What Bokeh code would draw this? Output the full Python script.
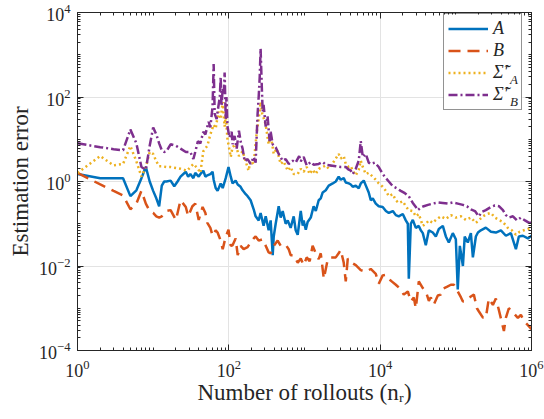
from bokeh.plotting import figure
from bokeh.models import (LogAxis, FixedTicker, LogTickFormatter, Legend, LegendItem,
                          Label, CustomJSTickFormatter, Range1d, BoxAnnotation)
from bokeh.embed import file_html
from bokeh.resources import INLINE

# ---------------- data ----------------
n_A = [1, 2, 3, 4, 5, 6, 7, 8, 9, 10, 11, 12, 13, 14, 15, 17,
       19, 21, 23, 27, 29, 31, 34, 36, 40, 42, 46, 49, 52, 57, 61, 63, 67, 71, 78, 83, 91, 99,
       106, 112, 123, 131, 143, 152, 167, 177, 194, 213, 226, 248, 263, 288, 307, 336, 357, 380,
       392, 416, 456, 484, 515, 564, 600, 656, 720, 765, 813, 892, 947, 975, 1040, 1100, 1210,
       1320, 1410, 1540, 1640, 1740, 1910, 2090, 2360, 2590, 2830, 3010, 3300, 3510, 3850, 4090,
       4340, 4760, 5210, 5540, 6070, 6450, 7060, 7510, 7980, 8750, 9580,
       10800, 11900, 13000, 14700, 16100, 17600, 19900, 21800, 23200, 23900, 24600, 25400, 27000,
       29600, 32400, 34400, 36600, 40100, 44000, 49600, 54400, 59600, 67300, 73800, 80800, 91200,
       100000, 106000, 113000, 124000, 131000, 144000, 158000, 168000, 184000, 196000, 214000,
       249000, 291000, 338000, 394000, 459000, 534000, 622000, 681000, 769000, 896000, 1000000]
err_A = [1.5, 1.2, 1.2, 1.2, 0.45, 0.62, 1.2, 2.2, 1.0, 0.6, 0.4, 0.26, 0.8, 1.0, 1.0, 1.05,
         0.77, 1.0, 1.3, 1.7, 1.3, 1.5, 1.2, 1.6, 1.3, 1.5, 1.8, 1.3, 1.4, 1.5, 1.7, 1.1, 0.7, 0.6, 0.9, 0.7, 1.2, 2.2,
         1.3, 0.9, 1.05, 0.85, 0.75, 0.62, 0.5, 0.45, 0.36, 0.22, 0.15, 0.12, 0.18, 0.09, 0.15, 0.07, 0.12, 0.018,
         0.05, 0.1, 0.26, 0.14, 0.2, 0.1, 0.12, 0.08, 0.15, 0.07, 0.055, 0.2, 0.09, 0.12, 0.072, 0.11, 0.14,
         0.26, 0.2, 0.36, 0.4, 0.55, 0.62, 0.8, 0.9, 1.0, 1.3, 1.1, 1.2, 0.95, 0.9, 0.85,
         0.75, 0.8, 0.69, 0.9, 1.05, 0.81, 0.55, 0.36, 0.4, 0.3, 0.26,
         0.25, 0.2, 0.18, 0.2, 0.16, 0.15, 0.17, 0.12, 0.1, 0.005, 0.02, 0.1, 0.123,
         0.08, 0.089, 0.07, 0.06, 0.031, 0.07, 0.062, 0.05, 0.075, 0.089, 0.05, 0.036, 0.06,
         0.043, 0.0028, 0.03, 0.01, 0.05, 0.036, 0.06, 0.016, 0.05, 0.062, 0.07,
         0.081, 0.065, 0.062, 0.07, 0.052, 0.06, 0.025, 0.05, 0.052, 0.045, 0.052]

n_B = [1, 2, 3, 4, 5, 6, 7, 8, 9, 10, 11, 12, 13, 14, 15, 17,
       20, 23, 27, 29, 33, 36, 40, 45, 49, 52, 57, 61, 67, 71, 78, 83, 91, 99,
       106, 112, 123, 131, 143, 157, 177, 194, 213, 226, 248, 280, 307, 336, 357, 392, 442, 484,
       564, 618, 656, 720, 813, 892, 975, 1070, 1170, 1280, 1410, 1540, 1640, 1800, 2030, 2220,
       2590, 2830, 3010, 3300, 3510, 3730, 4090, 4760, 5540, 6450, 7510, 8750, 9580,
       10800, 11900, 13800, 16100, 18700, 20500, 23200, 25400, 27800, 29600, 32400, 36600, 40100,
       44000, 46700, 51200, 57800, 63300, 67300, 76000, 85900, 94200, 106000, 117000, 124000,
       136000, 149000, 158000, 173000, 190000, 201000, 228000, 249000, 273000, 309000, 338000,
       371000, 432000, 459000, 502000, 568000, 661000, 724000, 793000, 896000, 1000000]
err_B = [1.6, 0.85, 0.6, 0.47, 0.22, 0.3, 0.6, 0.3, 0.2, 0.18, 0.15, 0.14, 0.15, 0.18, 0.2, 0.21,
         0.123, 0.36, 0.25, 0.15, 0.26, 0.3, 0.123, 0.25, 0.18, 0.105, 0.08, 0.052, 0.07, 0.062, 0.04, 0.025, 0.05, 0.072,
         0.03, 0.031, 0.045, 0.018, 0.03, 0.025, 0.028, 0.036, 0.045, 0.05, 0.04, 0.043, 0.03, 0.021, 0.02, 0.03, 0.04, 0.03,
         0.032, 0.025, 0.018, 0.018, 0.012, 0.015, 0.0105, 0.016, 0.013, 0.03, 0.02, 0.0145, 0.02, 0.005, 0.0145, 0.016,
         0.016, 0.02, 0.024, 0.012, 0.0043, 0.015, 0.0123, 0.0105, 0.008, 0.0073, 0.0085, 0.0065, 0.0038,
         0.006, 0.0062, 0.0045, 0.0036, 0.0028, 0.0021, 0.0025, 0.00145, 0.0018, 0.001, 0.0043, 0.003, 0.0025,
         0.0015, 0.0018, 0.00123, 0.002, 0.0021, 0.0029, 0.0032, 0.0036, 0.0036, 0.0025, 0.0018, 0.00145,
         0.0015, 0.0017, 0.0019, 0.0021, 0.001, 0.00085, 0.0006, 0.00059, 0.0017, 0.0012, 0.0017,
         0.0009, 0.00029, 0.0006, 0.001, 0.0008, 0.00059, 0.0007, 0.0005, 0.0004, 0.00032]

n_SA = [1, 2, 3, 4, 5, 6, 7, 8, 9, 10, 11, 12, 13, 15, 17,
        23, 28, 34, 39, 42, 46, 52, 57, 63, 67, 73, 78, 83, 88, 91, 96,
        106, 112, 123, 136, 152, 167, 182, 194, 213, 234, 248, 263, 276, 288, 307, 336, 357, 392,
        429, 484, 530, 600, 656, 720, 813, 892, 975, 1070, 1170, 1280, 1410, 1540, 1740, 1910,
        2090, 2360, 2590, 2830, 3010, 3300, 3510, 3850, 4090, 4340, 4760, 5210, 5540, 5900, 6450,
        7060, 7980, 8750, 9580,
        10800, 11900, 13000, 14700, 16100, 17600, 19900, 21800, 23900, 27000, 29600, 32400, 36600,
        40100, 44000, 49600, 54400, 63300, 73800, 85900, 100000, 117000, 136000, 158000, 184000,
        201000, 228000, 257000, 291000, 328000, 371000, 419000, 487000, 550000, 622000, 700000,
        793000, 896000, 1000000]
err_SA = [1.6, 4.0, 2.4, 2.6, 6.9, 3.0, 1.3, 2.2, 5.0, 4.5, 3.0, 2.3, 2.3, 2.2, 2.2,
          2.0, 1.8, 2.6, 2.0, 1.6, 5.2, 7.0, 13, 22, 18, 45, 30, 76, 20, 38, 10,
          3.8, 6.5, 7.6, 4.0, 5.2, 3.0, 1.8, 3.1, 2.6, 15, 30, 76, 40, 32, 22, 7.6, 13, 4.5,
          6.0, 2.6, 3.0, 1.8, 2.2, 1.5, 1.5, 2.0, 1.7, 2.2, 1.5, 1.9, 1.5, 2.0, 2.2, 2.4,
          2.0, 2.7, 3.5, 4.5, 3.5, 4.0, 2.6, 2.2, 2.3, 1.8, 1.4, 1.9, 3.1, 2.2, 1.5,
          1.6, 1.3, 1.1, 0.9,
          0.75, 0.6, 0.45, 0.5, 0.36, 0.31, 0.34, 0.26, 0.21, 0.2, 0.15, 0.17, 0.089,
          0.1, 0.12, 0.105, 0.123, 0.15, 0.13, 0.16, 0.14, 0.15, 0.123, 0.14, 0.105,
          0.12, 0.15, 0.17, 0.18, 0.14, 0.123, 0.11, 0.08, 0.07, 0.055, 0.065,
          0.07, 0.075, 0.081]

n_SB = [1, 2, 3, 4, 5, 6, 7, 8, 9, 10, 11, 12, 13, 14, 15, 17, 20,
        23, 27, 31, 34, 36, 39, 42, 46, 49, 54, 57, 61, 63, 65, 69, 71, 76, 78, 80, 83, 86, 88, 91, 93, 96,
        102, 109, 112, 119, 127, 136, 143, 152, 162, 177, 194, 213, 226, 240, 248, 256, 263, 272,
        280, 288, 307, 325, 346, 357, 380, 416, 456, 515, 564, 618, 698, 765, 850, 892, 975, 1070,
        1210, 1320, 1540, 1740, 1910, 2220, 2590, 3010, 3510, 3850, 4090, 4340, 4760, 5210, 5540,
        5900, 6450, 7060, 7510, 8500, 9580,
        10800, 11900, 13000, 14700, 16600, 18700, 21200, 23900, 27000, 29600, 31400, 34400, 37700,
        42900, 49600, 57800, 67300, 78000, 91200, 106000, 124000, 140000, 158000, 179000, 201000,
        220000, 249000, 291000, 328000, 371000, 419000, 459000, 502000, 568000, 642000, 724000,
        820000, 930000, 1000000]
err_SB = [8.0, 6.5, 5.8, 5.5, 17, 8.0, 2.2, 1.9, 7.0, 19, 13, 8.0, 5.5, 5.0, 5.2, 7.6, 7.0,
          6.0, 5.0, 5.0, 3.4, 5.0, 9.0, 8.0, 15, 13, 26, 19, 60, 600, 40, 30, 45, 100, 300, 60, 160, 120, 380, 30, 100, 20,
          11, 15, 7.6, 12, 6.0, 16, 9.0, 6.0, 3.0, 3.4, 2.6, 3.8, 2.8, 40, 100, 300, 1380, 200,
          45, 65, 20, 35, 9.0, 15, 7.6, 6.5, 4.5, 3.1, 3.4, 2.6, 3.1, 2.8, 4.0, 3.0, 3.8, 2.4,
          2.9, 2.5, 2.6, 2.9, 2.5, 2.4, 2.3, 2.2, 2.2, 1.9, 1.8, 1.5, 2.0, 3.1, 9.0,
          3.8, 4.5, 2.8, 2.6, 2.8, 2.2,
          1.5, 1.2, 1.0, 0.77, 0.69, 0.6, 0.53, 0.45, 0.31, 0.25, 0.21, 0.24, 0.26,
          0.28, 0.3, 0.32, 0.31, 0.3, 0.32, 0.3, 0.28, 0.26, 0.22, 0.2, 0.15,
          0.19, 0.21, 0.25, 0.27, 0.26, 0.21, 0.16, 0.14, 0.15, 0.12, 0.14,
          0.12, 0.105, 0.105]

x_major = [1, 1e2, 1e4, 1e6]
y_major = [1e-4, 1e-2, 1, 1e2, 1e4]

for a, b in [(n_A, err_A), (n_B, err_B), (n_SA, err_SA), (n_SB, err_SB)]:
    assert len(a) == len(b), (len(a), len(b))

# ---------------- styling ----------------
FONT = "Times New Roman"
AX = "#262626"
C_A, C_B, C_SA, C_SB = "#0072BD", "#D95319", "#EDB120", "#7E2F8E"

x_minor = [k * 10 ** d for d in range(0, 6) for k in range(1, 10) if k * 10 ** d not in x_major]
y_minor = [k * 10.0 ** d for d in range(-4, 4) for k in range(1, 10) if k * 10.0 ** d not in y_major]
x_ticker = FixedTicker(ticks=x_major, minor_ticks=x_minor)
y_ticker = FixedTicker(ticks=y_major, minor_ticks=y_minor)

p = figure(width=544, height=419, x_axis_type="log", y_axis_type="log",
           x_range=Range1d(1, 1e6), y_range=Range1d(1e-4, 1e4),
           output_backend="svg", toolbar_location=None,
           min_border_left=77, min_border_right=13, min_border_top=12, min_border_bottom=69)
p.background_fill_color = "white"
p.border_fill_color = "white"
p.outline_line_color = AX
p.outline_line_width = 1

def style_axis(ax, ticker, show_labels):
    ax.ticker = ticker
    ax.axis_line_color = AX
    ax.major_tick_line_color = AX
    ax.minor_tick_line_color = AX
    ax.major_tick_in = 6
    ax.major_tick_out = 0
    ax.minor_tick_in = 3
    ax.minor_tick_out = 0
    if show_labels:
        ax.formatter = LogTickFormatter()
        ax.major_label_text_font = FONT
        ax.major_label_text_font_size = "18px"
        ax.major_label_text_color = AX
    else:
        ax.formatter = CustomJSTickFormatter(code="return ''")
        ax.major_label_text_font_size = "1px"
        ax.major_label_standoff = 0

style_axis(p.xaxis[0], x_ticker, True)
style_axis(p.yaxis[0], y_ticker, True)
p.xaxis[0].major_label_standoff = 9
p.yaxis[0].major_label_standoff = 7
p.xaxis[0].axis_label = "Number of rollouts (nᵣ)"
p.yaxis[0].axis_label = "Estimation error"
for ax in (p.xaxis[0], p.yaxis[0]):
    ax.axis_label_text_font = FONT
    ax.axis_label_text_font_size = "23px"
    ax.axis_label_text_font_style = "normal"
    ax.axis_label_text_color = AX
p.xaxis[0].axis_label_standoff = 0
p.yaxis[0].axis_label_standoff = 3

top_ax = LogAxis()
right_ax = LogAxis()
style_axis(top_ax, x_ticker, False)
style_axis(right_ax, y_ticker, False)
p.add_layout(top_ax, "above")
p.add_layout(right_ax, "right")

p.xgrid.ticker = FixedTicker(ticks=x_major)
p.ygrid.ticker = FixedTicker(ticks=y_major)
for g in (p.xgrid[0], p.ygrid[0]):
    g.grid_line_color = "#e3e3e3"
    g.grid_line_width = 1

rA = p.line(n_A, err_A, line_color=C_A, line_width=2.5)
rB = p.line(n_B, err_B, line_color=C_B, line_width=2.5, line_dash="12 7")
rSA = p.line(n_SA, err_SA, line_color=C_SA, line_width=2.5, line_dash="2 3")
rSB = p.line(n_SB, err_SB, line_color=C_SB, line_width=2.5, line_dash="9 3 2 3")

# white panel behind the legend (hides the grid line there)
p.add_layout(BoxAnnotation(left=6.87e4, right=7.6e5, bottom=47.9, top=8970,
                           fill_color="white", fill_alpha=1, line_alpha=0))

legend = Legend(items=[LegendItem(label="A", renderers=[rA]),
                       LegendItem(label="B", renderers=[rB]),
                       LegendItem(label="Σ̃′", renderers=[rSA]),
                       LegendItem(label="Σ̃′", renderers=[rSB])],
                location=(366, 240))
legend.label_text_font = FONT
legend.label_text_font_style = "italic"
legend.label_text_font_size = "18px"
legend.label_text_color = AX
legend.label_height = 21
legend.label_width = 24
legend.glyph_height = 21
legend.glyph_width = 40
legend.label_standoff = 5
legend.spacing = 1
legend.padding = 4
legend.margin = 0
legend.border_line_color = AX
legend.border_line_width = 1
legend.background_fill_alpha = 0
p.add_layout(legend)

# subscripts of the two legend labels (legend annotation text)
sub_x = 5.85e5
for txt, yy in [("A", 262.0), ("B", 80.0)]:
    p.add_layout(Label(x=sub_x, y=yy, text=txt,
                       text_font=FONT, text_font_style="italic", text_font_size="13px",
                       text_color=AX, text_align="center", text_baseline="middle"))

open("out.html", "w").write(file_html(p, INLINE))
